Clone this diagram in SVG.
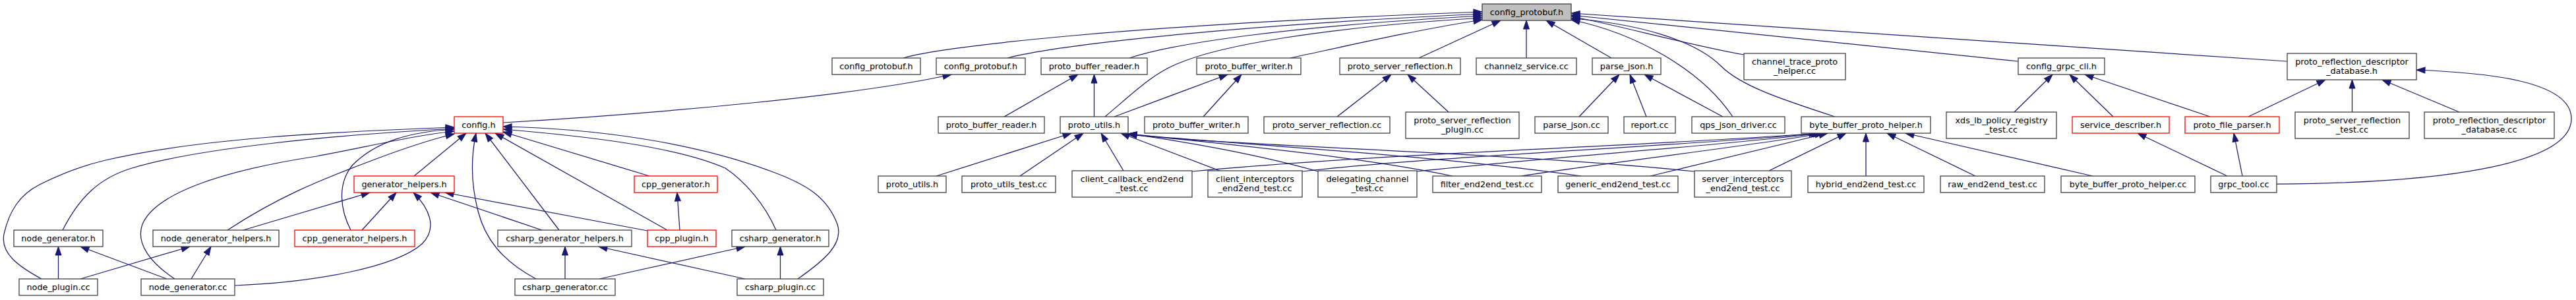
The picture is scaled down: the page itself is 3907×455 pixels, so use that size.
<svg xmlns="http://www.w3.org/2000/svg" width="3907" height="455" viewBox="0 0 3907 455">
<style>
.n rect{fill:#ffffff;stroke:#404040;stroke-width:1.3}
.n.r rect{stroke:#ff0000}
.n.m rect{fill:#bfbfbf}
.n text{font-family:"DejaVu Sans","Liberation Sans",sans-serif;font-size:12.8px;fill:#000;text-anchor:middle}
#edges path{fill:none;stroke:#191970;stroke-width:1.25;marker-end:url(#ah)}
</style>
<defs>
<marker id="ah" markerUnits="userSpaceOnUse" markerWidth="13" markerHeight="9" refX="13" refY="4.5" orient="auto" overflow="visible">
<path d="M0,0 L13,4.5 L0,9 z" fill="#191970" stroke="#191970" stroke-width="1"/>
</marker>
</defs>
<rect width="3907" height="455" fill="#ffffff"/>
<g id="edges">
<path d="M1370,88 C1420,72 1700,38 2248,18"/>
<path d="M1528,88 C1580,74 1800,42 2248,21"/>
<path d="M1713,88 C1780,66 1950,40 2248,24"/>
<path d="M1676,177 C1720,140 1750,110 1790,95 C1850,70 2000,42 2248,27"/>
<path d="M1957,88 C2050,68 2150,45 2248,30"/>
<path d="M2152,88 L2276,31"/>
<path d="M2315,88 L2315,31"/>
<path d="M2444,88 L2345,31"/>
<path d="M2628,177 C2580,105 2480,50 2383,30"/>
<path d="M2783,177 C2700,150 2640,130 2610,100 C2570,60 2480,35 2383,28"/>
<path d="M2645,83 C2560,68 2450,37 2383,25"/>
<path d="M3061,93 L2383,23"/>
<path d="M3469,93 L2383,20"/>
<path d="M763,186 C1000,172 1300,145 1443,113"/>
<path d="M1523,177 L1635,113"/>
<path d="M1659.5,177 L1659.5,113"/>
<path d="M1690,177 L1862,113"/>
<path d="M1825,177 L1883,113"/>
<path d="M2028,177 L2110,113"/>
<path d="M2197,170 L2135,113"/>
<path d="M2395,177 L2456,113"/>
<path d="M2497,177 L2472,113"/>
<path d="M2613,177 L2494,113"/>
<path d="M3055,170 L3113,113"/>
<path d="M3205,177 L3139,113"/>
<path d="M3352,177 L3162,113"/>
<path d="M3410,177 L3527,121"/>
<path d="M3567.5,170 L3567.5,121"/>
<path d="M3730,170 L3613,121"/>
<path d="M3453,279 C3700,278 3900,250 3900,180 C3900,120 3760,110 3665,106"/>
<path d="M3378,267 L3242,202"/>
<path d="M3401,267 L3388,202"/>
<path d="M1420,267 L1625,202"/>
<path d="M1547,267 L1643,202"/>
<path d="M1704,259 L1670,202"/>
<path d="M1850,259 L1700,202"/>
<path d="M1999,260 C1900,232 1780,212 1711,203"/>
<path d="M2203,267 C2050,235 1820,215 1711,203"/>
<path d="M2398,267 C2150,232 1850,218 1711,203"/>
<path d="M2570,260 C2300,232 1880,222 1711,204"/>
<path d="M1808,260 C2100,232 2500,222 2757,202"/>
<path d="M1975,260 C2200,235 2550,222 2760,202"/>
<path d="M2149,260 C2350,238 2600,222 2763,202"/>
<path d="M2307,267 C2450,245 2650,222 2766,202"/>
<path d="M2503,267 L2772,202"/>
<path d="M2683,259 L2800,202"/>
<path d="M2830,267 L2830,202"/>
<path d="M2996,267 L2862,202"/>
<path d="M3174,267 L2890,202"/>
<path d="M628,267 L707,202"/>
<path d="M63,423 C30,405 0,385 6,355 C14,320 30,295 60,280 C100,260 130,250 160,243 C300,210 500,200 689,193"/>
<path d="M95,349 C120,300 150,270 200,255 C300,225 500,205 689,195"/>
<path d="M345,349 C420,300 480,275 560,245 C620,222 660,210 689,203"/>
<path d="M265,423 C230,400 205,370 216,340 C235,295 330,260 480,237 C560,222 630,205 689,199"/>
<path d="M532,349 C517,320 510,280 535,250 C570,215 620,200 689,196"/>
<path d="M813,423 C760,395 735,360 725,320 C712,270 716,230 722,202"/>
<path d="M848,349 L736,202"/>
<path d="M1012,349 L751,202"/>
<path d="M985,267 L763,200"/>
<path d="M1177,349 C1160,310 1130,275 1100,255 C1020,220 870,205 763,196"/>
<path d="M1210,423 C1250,395 1280,370 1270,340 C1255,300 1225,280 1170,260 C1050,215 900,195 763,192"/>
<path d="M369,349 L561,292"/>
<path d="M549,349 L601,292"/>
<path d="M356,433 C480,428 600,405 640,370 C665,345 650,315 627,292"/>
<path d="M822,349 L653,292"/>
<path d="M982,350 L675,292"/>
<path d="M88.5,423 L88.5,374"/>
<path d="M253,423 L122,374"/>
<path d="M122,423 L288,374"/>
<path d="M290,423 L320,374"/>
<path d="M857,423 L857,374"/>
<path d="M1130,423 L908,374"/>
<path d="M909,423 L1130,374"/>
<path d="M1183.5,423 L1183.5,374"/>
<path d="M1031,349 L1027,292"/>
</g>
<g id="n_main" class="n m"><rect x="2248" y="6" width="135" height="25"/><text x="2315.5" y="23">config_protobuf.h</text></g>
<g id="n_cpb1" class="n"><rect x="1262" y="88" width="134" height="25"/><text x="1329" y="105">config_protobuf.h</text></g>
<g id="n_cpb2" class="n"><rect x="1420" y="88" width="135" height="25"/><text x="1487.5" y="105">config_protobuf.h</text></g>
<g id="n_pbr1" class="n"><rect x="1579" y="88" width="161" height="25"/><text x="1659.5" y="105">proto_buffer_reader.h</text></g>
<g id="n_pbw1" class="n"><rect x="1815" y="88" width="158" height="25"/><text x="1894" y="105">proto_buffer_writer.h</text></g>
<g id="n_psrh" class="n"><rect x="2032" y="88" width="183" height="25"/><text x="2123.5" y="105">proto_server_reflection.h</text></g>
<g id="n_channelz" class="n"><rect x="2239" y="88" width="152" height="25"/><text x="2315" y="105">channelz_service.cc</text></g>
<g id="n_pjh" class="n"><rect x="2415" y="88" width="104" height="25"/><text x="2467" y="105">parse_json.h</text></g>
<g id="n_chtrace" class="n"><rect x="2645" y="81" width="154" height="40"/><text x="2722" y="97.5">channel_trace_proto</text><text x="2722" y="111.5">_helper.cc</text></g>
<g id="n_cgc" class="n"><rect x="3061" y="88" width="131" height="25"/><text x="3126.5" y="105">config_grpc_cli.h</text></g>
<g id="n_prddh" class="n"><rect x="3469" y="81" width="196" height="40"/><text x="3567" y="97.5">proto_reflection_descriptor</text><text x="3567" y="111.5">_database.h</text></g>
<g id="n_configh" class="n r"><rect x="689" y="177" width="74" height="25"/><text x="726" y="194">config.h</text></g>
<g id="n_pbr2" class="n"><rect x="1423" y="177" width="161" height="25"/><text x="1503.5" y="194">proto_buffer_reader.h</text></g>
<g id="n_pu1" class="n"><rect x="1608" y="177" width="103" height="25"/><text x="1659.5" y="194">proto_utils.h</text></g>
<g id="n_pbw2" class="n"><rect x="1736" y="177" width="157" height="25"/><text x="1814.5" y="194">proto_buffer_writer.h</text></g>
<g id="n_psrcc" class="n"><rect x="1917" y="177" width="191" height="25"/><text x="2012.5" y="194">proto_server_reflection.cc</text></g>
<g id="n_psrplugin" class="n"><rect x="2132" y="170" width="172" height="40"/><text x="2218" y="186.5">proto_server_reflection</text><text x="2218" y="200.5">_plugin.cc</text></g>
<g id="n_pjcc" class="n"><rect x="2328" y="177" width="111" height="25"/><text x="2383.5" y="194">parse_json.cc</text></g>
<g id="n_report" class="n"><rect x="2463" y="177" width="78" height="25"/><text x="2502" y="194">report.cc</text></g>
<g id="n_qps" class="n"><rect x="2566" y="177" width="141" height="25"/><text x="2636.5" y="194">qps_json_driver.cc</text></g>
<g id="n_bbph" class="n"><rect x="2732" y="177" width="196" height="25"/><text x="2830" y="194">byte_buffer_proto_helper.h</text></g>
<g id="n_xds" class="n"><rect x="2952" y="170" width="167" height="40"/><text x="3035.5" y="186.5">xds_lb_policy_registry</text><text x="3035.5" y="200.5">_test.cc</text></g>
<g id="n_sd" class="n r"><rect x="3143" y="177" width="147" height="25"/><text x="3216.5" y="194">service_describer.h</text></g>
<g id="n_pfp" class="n r"><rect x="3314" y="177" width="143" height="25"/><text x="3385.5" y="194">proto_file_parser.h</text></g>
<g id="n_psrtest" class="n"><rect x="3481" y="170" width="173" height="40"/><text x="3567.5" y="186.5">proto_server_reflection</text><text x="3567.5" y="200.5">_test.cc</text></g>
<g id="n_prddcc" class="n"><rect x="3677" y="170" width="197" height="40"/><text x="3775.5" y="186.5">proto_reflection_descriptor</text><text x="3775.5" y="200.5">_database.cc</text></g>
<g id="n_gh" class="n r"><rect x="537" y="267" width="152" height="25"/><text x="613" y="284">generator_helpers.h</text></g>
<g id="n_cppgen" class="n r"><rect x="962" y="267" width="126" height="25"/><text x="1025" y="284">cpp_generator.h</text></g>
<g id="n_pu2" class="n"><rect x="1332" y="267" width="103" height="25"/><text x="1383.5" y="284">proto_utils.h</text></g>
<g id="n_putest" class="n"><rect x="1459" y="267" width="142" height="25"/><text x="1530" y="284">proto_utils_test.cc</text></g>
<g id="n_cc" class="n"><rect x="1626" y="259" width="182" height="40"/><text x="1717" y="275.5">client_callback_end2end</text><text x="1717" y="289.5">_test.cc</text></g>
<g id="n_ci" class="n"><rect x="1832" y="259" width="143" height="40"/><text x="1903.5" y="275.5">client_interceptors</text><text x="1903.5" y="289.5">_end2end_test.cc</text></g>
<g id="n_dc" class="n"><rect x="1999" y="259" width="150" height="40"/><text x="2074" y="275.5">delegating_channel</text><text x="2074" y="289.5">_test.cc</text></g>
<g id="n_filter" class="n"><rect x="2173" y="267" width="165" height="25"/><text x="2255.5" y="284">filter_end2end_test.cc</text></g>
<g id="n_generic" class="n"><rect x="2363" y="267" width="182" height="25"/><text x="2454" y="284">generic_end2end_test.cc</text></g>
<g id="n_si" class="n"><rect x="2570" y="259" width="147" height="40"/><text x="2643.5" y="275.5">server_interceptors</text><text x="2643.5" y="289.5">_end2end_test.cc</text></g>
<g id="n_hybrid" class="n"><rect x="2742" y="267" width="176" height="25"/><text x="2830" y="284">hybrid_end2end_test.cc</text></g>
<g id="n_raw" class="n"><rect x="2943" y="267" width="158" height="25"/><text x="3022" y="284">raw_end2end_test.cc</text></g>
<g id="n_bbphcc" class="n"><rect x="3126" y="267" width="203" height="25"/><text x="3227.5" y="284">byte_buffer_proto_helper.cc</text></g>
<g id="n_grpctool" class="n"><rect x="3353" y="267" width="100" height="25"/><text x="3403" y="284">grpc_tool.cc</text></g>
<g id="n_ngh_" class="n"><rect x="21" y="349" width="135" height="25"/><text x="88.5" y="366">node_generator.h</text></g>
<g id="n_ngh" class="n"><rect x="232" y="349" width="191" height="25"/><text x="327.5" y="366">node_generator_helpers.h</text></g>
<g id="n_cppgh" class="n r"><rect x="447" y="349" width="182" height="25"/><text x="538" y="366">cpp_generator_helpers.h</text></g>
<g id="n_csgh" class="n"><rect x="755" y="349" width="203" height="25"/><text x="856.5" y="366">csharp_generator_helpers.h</text></g>
<g id="n_cppplugin" class="n r"><rect x="982" y="349" width="104" height="25"/><text x="1034" y="366">cpp_plugin.h</text></g>
<g id="n_csgenh" class="n"><rect x="1110" y="349" width="147" height="25"/><text x="1183.5" y="366">csharp_generator.h</text></g>
<g id="n_nodeplugin" class="n"><rect x="29" y="423" width="119" height="25"/><text x="88.5" y="440">node_plugin.cc</text></g>
<g id="n_ngcc" class="n"><rect x="214" y="423" width="142" height="25"/><text x="285" y="440">node_generator.cc</text></g>
<g id="n_csgcc" class="n"><rect x="781" y="423" width="152" height="25"/><text x="857" y="440">csharp_generator.cc</text></g>
<g id="n_cspcc" class="n"><rect x="1118" y="423" width="131" height="25"/><text x="1183.5" y="440">csharp_plugin.cc</text></g>
</svg>
